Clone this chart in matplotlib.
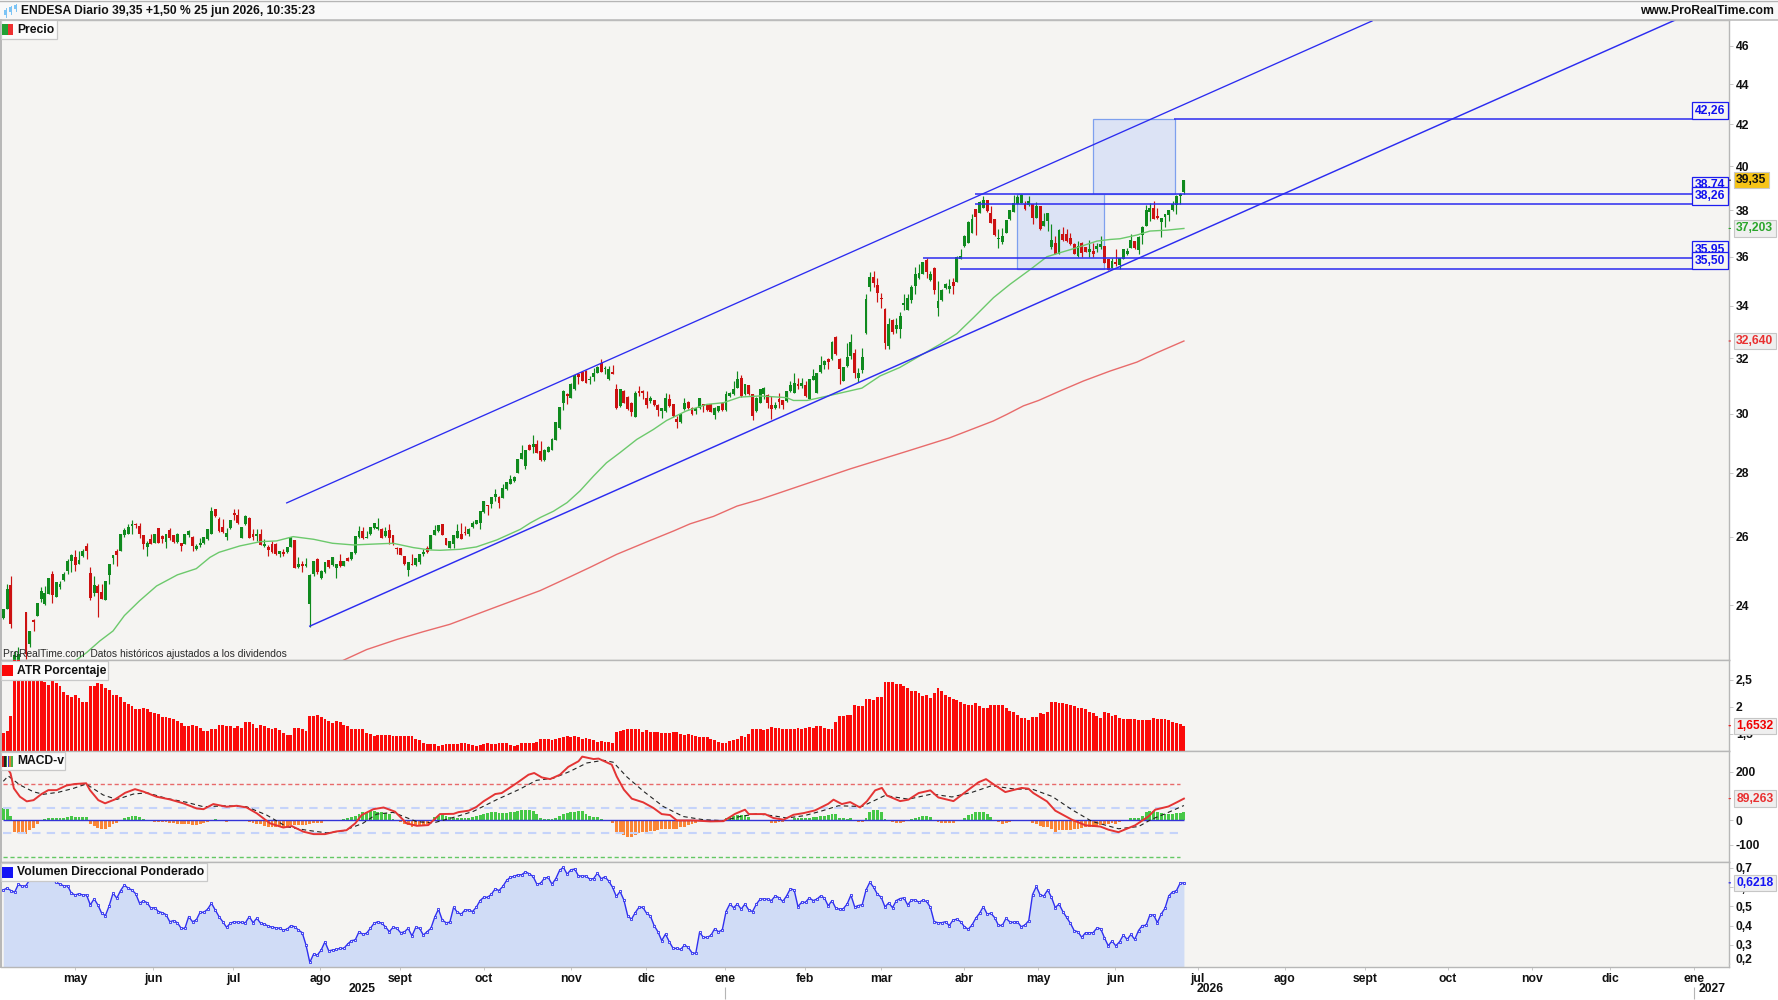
import matplotlib
matplotlib.use("Agg")
import matplotlib.pyplot as plt
from matplotlib.patches import Rectangle
from matplotlib.ticker import NullLocator

plt.rcParams['font.family'] = ['Liberation Sans', 'DejaVu Sans']

W, H = 1778, 1000

# Daily candles, oldest first
opens = [
 23.66,23.89,24.58,22.45,22.5,22.4,23.81,22.94,23.6,23.71,
 24.17,24.03,24.32,24.89,24.24,24.51,24.73,24.97,25.28,25.38,
 25.2,25.43,25.72,24.93,24.36,24.55,24.39,24.15,24.86,25.36,
 25.58,25.58,26.04,26.09,26.33,26.36,26.33,26.05,25.69,25.92,
 25.82,26.25,26.02,25.85,26.2,26.04,25.84,25.8,25.79,26.04,
 26.0,25.62,25.74,25.8,25.92,26.09,26.84,26.55,26.3,25.99,
 26.26,26.71,26.67,25.97,26.38,26.58,26.09,26.02,26.09,25.72,
 25.69,25.79,25.79,25.48,25.55,25.53,25.69,25.89,25.09,25.17,
 25.12,24.05,24.89,25.33,24.78,24.94,25.3,25.16,25.07,25.28,
 25.14,25.36,25.33,25.5,26.0,26.16,25.95,26.07,26.26,26.23,
 26.23,26.02,26.21,26.04,25.67,25.67,25.41,25.01,25.18,25.16,
 25.23,25.48,25.67,25.62,26.05,26.16,26.38,25.95,25.67,25.77,
 25.97,26.07,26.14,26.07,26.29,26.39,26.42,26.75,26.97,26.99,
 27.24,27.24,27.21,27.47,27.65,27.74,28.0,28.47,28.23,28.92,
 28.85,28.94,28.72,28.42,28.7,28.77,29.09,29.49,30.36,30.68,
 30.56,30.86,31.4,31.5,31.52,31.18,31.3,31.46,31.8,31.58,
 31.22,31.5,30.86,30.26,30.8,30.6,30.38,29.89,30.78,30.8,
 30.56,30.44,30.46,30.3,30.09,30.09,30.5,30.32,29.82,29.7,
 30.15,30.42,30.2,30.09,30.18,30.32,30.3,30.32,29.94,30.09,
 30.38,30.11,30.62,30.68,30.92,31.28,30.68,31.0,30.68,30.09,
 30.38,30.68,30.66,30.3,30.19,30.5,30.46,30.44,30.78,30.74,
 31.04,30.96,31.02,30.5,31.2,30.74,31.48,31.74,31.98,31.95,
 32.8,31.98,31.16,31.69,32.08,32.2,31.28,31.56,32.94,34.76,
 35.16,34.82,34.33,33.89,32.45,33.44,33.11,33.09,34.04,33.84,
 34.23,34.8,35.11,35.3,35.85,35.03,35.54,33.93,34.23,34.7,
 34.67,34.96,34.96,35.92,36.45,36.59,37.02,38.04,37.89,38.11,
 38.44,37.89,37.6,36.73,36.62,37.02,37.6,37.92,38.29,38.33,
 38.26,38.23,38.26,37.67,38.18,37.31,37.53,36.43,36.56,36.13,
 36.95,36.95,36.81,36.52,36.03,36.59,36.41,36.21,36.24,36.31,
 36.42,36.45,35.89,35.54,35.78,35.65,35.92,36.1,36.38,36.66,
 36.27,36.92,37.31,37.9,38.12,37.75,37.5,37.7,37.78,37.99,38.23,38.65,38.8,
]
highs = [
 23.89,24.62,24.84,22.77,22.86,22.45,23.81,23.3,23.62,24.06,
 24.51,24.55,24.77,24.97,24.65,24.7,24.96,25.33,25.48,25.6,
 25.58,25.62,25.82,25.11,24.84,24.6,24.6,24.68,25.18,25.46,
 25.62,26.07,26.26,26.38,26.52,26.43,26.43,26.05,25.87,26.07,
 26.07,26.27,26.05,26.07,26.25,26.04,26.1,25.82,26.09,26.2,
 26.02,25.79,25.97,26.0,26.23,26.91,26.86,26.6,26.53,26.26,
 26.5,26.84,26.84,26.3,26.65,26.6,26.23,26.23,26.23,25.92,
 25.75,25.87,25.8,25.58,25.62,25.7,26.0,25.89,25.38,25.28,
 25.36,24.9,25.28,25.36,25.0,25.23,25.3,25.38,25.2,25.48,
 25.26,25.4,25.55,26.02,26.33,26.3,26.16,26.3,26.43,26.58,
 26.25,26.28,26.38,26.04,25.69,25.67,25.43,25.23,25.48,25.36,
 25.48,25.62,25.72,26.04,26.36,26.36,26.38,25.95,25.87,26.05,
 26.39,26.4,26.32,26.25,26.49,26.52,26.8,27.1,26.98,27.24,
 27.47,27.25,27.65,27.72,27.92,27.9,28.44,28.91,28.77,28.94,
 29.26,29.09,29.05,28.78,28.89,29.17,29.72,30.24,30.84,30.74,
 31.08,31.38,31.46,31.52,31.54,31.34,31.64,31.7,31.98,31.7,
 31.7,31.74,31.04,30.88,30.82,30.62,30.4,30.78,30.98,30.82,
 30.8,30.62,30.48,30.32,30.2,30.74,30.68,30.34,29.91,29.98,
 30.54,30.44,30.22,30.2,30.56,30.34,30.32,30.34,30.22,30.28,
 30.4,30.78,30.76,31.16,31.52,31.38,31.06,31.02,30.7,30.58,
 30.88,30.95,30.68,30.62,30.4,30.74,30.48,30.8,31.16,31.46,
 31.28,31.25,31.16,31.24,31.6,31.46,32.08,31.91,31.99,32.64,
 32.82,31.99,31.67,32.55,32.9,32.33,31.62,32.39,34.47,35.38,
 35.4,35.14,34.53,33.93,33.54,33.5,33.54,33.76,34.49,34.47,
 34.84,35.57,35.68,35.8,35.93,35.4,35.56,35.0,34.66,34.93,
 35.07,35.14,36.03,36.31,36.9,37.52,37.82,38.06,38.39,38.62,
 38.46,38.18,37.62,37.2,37.24,37.58,38.01,38.67,38.7,38.74,
 38.4,38.62,38.28,38.37,38.2,37.89,37.88,37.38,36.88,37.16,
 37.27,37.17,37.02,36.59,36.66,36.62,36.43,36.69,36.59,36.56,
 36.88,36.47,35.91,35.93,36.31,35.95,36.33,36.38,36.95,36.68,
 36.87,37.29,38.23,38.32,38.4,38.11,37.67,37.84,38.01,38.43,38.67,38.76,39.35,
]
lows = [
 23.63,23.89,23.37,22.3,22.3,22.1,22.55,22.86,23.3,23.71,
 24.1,24.0,24.32,24.06,24.24,24.46,24.7,24.89,24.94,24.99,
 25.2,25.4,25.33,24.15,24.27,23.69,24.17,24.15,24.6,25.2,
 25.12,25.58,26.0,26.07,26.07,26.26,25.95,25.62,25.43,25.77,
 25.8,25.8,25.82,25.67,25.9,25.8,25.8,25.58,25.79,26.0,
 25.58,25.6,25.7,25.78,25.9,26.09,26.6,26.14,26.1,25.89,
 26.24,26.5,26.38,25.95,26.36,25.95,25.89,25.87,25.74,25.7,
 25.43,25.5,25.45,25.38,25.43,25.5,25.69,25.06,25.07,24.96,
 25.1,23.42,24.85,24.9,24.75,24.92,25.07,25.14,24.78,25.1,
 25.12,25.26,25.3,25.48,25.97,25.93,25.95,26.05,26.24,26.2,
 25.95,26.0,25.77,25.75,25.48,25.44,25.16,24.84,25.16,25.14,
 25.2,25.43,25.52,25.62,26.04,26.14,26.04,25.74,25.65,25.67,
 25.95,25.92,26.05,26.03,26.27,26.37,26.22,26.73,26.66,26.88,
 27.1,26.87,27.2,27.45,27.63,27.72,28.0,28.45,28.12,28.75,
 28.67,28.65,28.39,28.4,28.68,28.75,29.08,29.48,30.12,30.32,
 30.55,30.85,31.04,31.14,31.08,31.04,31.16,31.44,31.48,31.4,
 31.2,31.4,30.16,30.24,30.36,30.13,29.91,29.87,30.62,30.5,
 30.18,30.38,30.28,29.91,29.85,30.07,30.24,29.89,29.51,29.68,
 30.13,30.16,29.95,30.0,30.16,30.07,30.09,30.05,29.82,30.07,
 30.09,30.09,30.6,30.66,30.9,30.6,30.66,30.66,29.77,30.07,
 30.36,30.5,30.21,29.8,30.15,30.21,30.15,30.42,30.76,30.72,
 30.86,30.9,30.6,30.5,31.18,30.72,31.46,31.59,31.59,31.93,
 32.1,31.06,31.14,31.67,31.98,31.28,31.12,31.46,32.92,34.6,
 34.76,34.17,33.9,32.35,32.35,32.9,32.93,32.77,33.83,33.82,
 34.13,34.49,35.09,35.28,35.14,35.0,34.49,33.6,34.21,34.68,
 34.53,34.49,34.94,35.9,36.43,36.57,37.0,36.91,37.87,38.09,
 37.94,37.44,36.89,36.38,36.52,37.0,37.58,37.9,38.27,38.31,
 38.02,38.2,37.38,37.65,37.15,37.29,37.1,36.31,36.1,36.11,
 36.68,36.64,36.5,36.1,36.0,35.99,36.19,35.99,35.99,36.21,
 36.31,35.73,35.44,35.52,35.61,35.51,35.9,36.08,36.36,36.33,
 36.13,36.52,37.29,37.53,37.61,37.63,36.85,37.27,37.53,37.97,37.82,38.26,38.74,
]
closes = [
 23.89,24.46,23.49,22.65,22.69,22.2,22.69,23.3,23.55,24.06,
 24.41,24.36,24.77,24.3,24.65,24.62,24.89,25.26,25.46,25.16,
 25.3,25.58,25.58,24.22,24.57,24.34,24.17,24.68,25.18,25.46,
 25.45,26.07,26.2,26.3,26.38,26.34,26.07,25.79,25.82,25.79,
 26.07,25.82,25.92,26.07,25.95,25.85,26.07,25.72,26.09,26.16,
 25.72,25.72,25.82,26.0,26.23,26.79,26.64,26.16,26.14,26.1,
 26.5,26.67,26.4,26.3,26.63,25.97,25.99,26.07,25.75,25.79,
 25.6,25.53,25.48,25.56,25.48,25.69,26.0,25.07,25.18,25.14,
 25.18,24.87,25.28,24.94,24.99,25.23,25.1,25.38,25.18,25.14,
 25.26,25.28,25.55,26.02,26.16,25.95,25.97,26.3,26.4,26.3,
 25.97,26.16,25.97,25.77,25.62,25.46,25.18,25.23,25.16,25.36,
 25.48,25.53,25.55,26.04,26.21,26.36,26.05,25.75,25.87,26.04,
 26.17,25.94,26.1,26.24,26.4,26.5,26.8,27.1,26.94,27.24,
 27.31,27.05,27.52,27.72,27.79,27.88,28.44,28.64,28.77,28.77,
 28.94,28.67,28.42,28.77,28.84,29.11,29.71,30.23,30.78,30.62,
 31.04,31.36,31.3,31.16,31.1,31.22,31.46,31.68,31.5,31.64,
 31.6,31.42,30.18,30.86,30.38,30.15,30.07,30.72,30.74,30.74,
 30.3,30.56,30.3,30.11,30.18,30.54,30.26,29.91,29.7,29.97,
 30.38,30.18,29.97,30.18,30.54,30.26,30.11,30.07,30.2,30.26,
 30.11,30.68,30.74,30.88,31.22,30.62,31.04,30.68,29.91,30.56,
 30.86,30.9,30.38,30.15,30.3,30.4,30.3,30.78,31.02,31.1,
 30.98,31.1,30.62,31.22,31.34,31.44,31.73,31.89,31.85,32.62,
 32.14,31.59,31.65,32.02,32.62,31.43,31.46,32.02,34.26,35.16,
 34.9,34.53,34.28,32.55,33.28,32.98,33.25,33.6,34.13,34.33,
 34.76,35.27,35.31,35.78,35.38,35.27,34.63,34.2,34.64,34.87,
 34.8,34.8,36.0,36.03,36.88,37.5,37.6,37.72,38.37,38.47,
 37.96,37.46,36.91,36.81,36.88,37.56,37.99,38.3,38.6,38.67,
 38.04,38.43,37.67,38.18,37.17,37.53,37.86,36.69,36.13,37.14,
 36.7,36.66,36.52,36.13,36.45,36.17,36.21,36.31,36.13,36.45,
 36.55,35.75,35.46,35.82,35.68,35.93,36.31,36.24,36.7,36.35,
 36.85,37.27,38.0,38.12,37.63,37.65,37.65,37.82,37.99,38.26,38.65,38.74,39.35,
]

# Moving averages: (bar, price) vertices
ma_fast_bar = [19.2,22,25.5,29,32,36,40.5,46,51,54.6,57,62.5,68,72.2,76.6,82,87,92.5,98.7,103,108.4,112.8,
               115.4,120.7,125,130.4,136.6,139.3,142,145.4,149,152.4,156,159.4,163,167.4,171.8,175.3,180.5,185.9,190.3,
               194.7,200,207,208.8,212.4,215.9,221.1,226.9,231.7,236.9,242.2,247.6,252,256.4,261.7,266.1,
               271.4,275.8,279.3,283.7,289,292.5,295.1,299.6,303,307.5,312]
ma_fast_val = [22.52,22.72,23.03,23.3,23.72,24.13,24.55,24.87,25.05,25.38,25.53,25.72,25.85,25.87,26.0,25.92,25.8,25.75,25.78,25.8,25.67,25.6,
               25.59,25.62,25.69,25.9,26.22,26.42,26.59,26.78,27.05,27.42,27.9,28.33,28.67,29.11,29.45,29.76,30.09,30.32,30.38,
               30.58,30.62,30.56,30.46,30.46,30.56,30.72,30.9,31.34,31.65,32.08,32.52,32.92,33.54,34.33,34.87,
               35.47,36.0,36.17,36.38,36.66,36.73,36.76,36.92,37.09,37.13,37.203]
ma_slow_bar = [89.9,96,104,111,118,130,141.9,148.9,155.1,162.1,170,177.1,181.5,187.7,193.9,200,223.8,239,250,261.6,265.2,269.6,
               273.6,279.3,285.5,292.5,299.6,304.9,312]
ma_slow_val = [22.52,22.8,23.07,23.28,23.48,23.95,24.42,24.77,25.09,25.47,25.84,26.17,26.39,26.62,26.94,27.15,28.13,28.72,29.16,29.74,29.97,30.27,
               30.46,30.8,31.16,31.52,31.85,32.2,32.64]

# Trend channel: (bar, price) end points
channel_upper_bar = [74.9, 361.7]
channel_upper_val = [27.04, 47.35]
channel_lower_bar = [81.0, 441.8]
channel_lower_val = [23.43, 47.4]

# Price levels with the bar each one starts from
level_vals = [42.26, 38.74, 38.26, 35.95, 35.50]
level_labels = ['42,26', '38,74', '38,26', '35,95', '35,50']
level_start_bar = [309.4, 256.8, 256.8, 243.0, 252.8]

# Shaded projection boxes: bar span and price span
box_bar_start = [288.0, 267.9]
box_bar_end = [309.6, 291.0]
box_low = [38.74, 35.50]
box_high = [42.26, 38.74]

# ATR percentage per bar
atr_vals = [
 1.52,1.56,1.83,2.95,2.9,2.85,2.8,2.75,2.7,2.65,
 2.48,2.47,2.40,2.51,2.44,2.38,2.28,2.23,2.19,2.23,
 2.16,2.1,2.1,2.39,2.38,2.44,2.42,2.35,2.31,2.23,
 2.22,2.18,2.1,2.06,2.01,1.96,1.96,1.98,1.96,1.91,
 1.88,1.87,1.82,1.82,1.79,1.77,1.74,1.7,1.64,1.65,
 1.67,1.65,1.62,1.56,1.56,1.59,1.6,1.67,1.67,1.65,
 1.64,1.62,1.65,1.62,1.72,1.72,1.69,1.62,1.67,1.64,
 1.62,1.6,1.62,1.57,1.52,1.48,1.48,1.62,1.61,1.59,
 1.56,1.83,1.83,1.85,1.82,1.77,1.74,1.7,1.74,1.72,
 1.67,1.64,1.6,1.59,1.59,1.59,1.52,1.5,1.47,1.48,
 1.48,1.48,1.49,1.47,1.46,1.46,1.46,1.46,1.46,1.41,
 1.38,1.34,1.31,1.31,1.31,1.28,1.3,1.31,1.31,1.31,
 1.31,1.34,1.34,1.31,1.30,1.27,1.3,1.31,1.33,1.31,
 1.31,1.33,1.34,1.33,1.29,1.27,1.3,1.33,1.34,1.34,
 1.34,1.36,1.41,1.41,1.41,1.39,1.41,1.43,1.44,1.46,
 1.44,1.46,1.44,1.41,1.42,1.41,1.39,1.35,1.37,1.36,
 1.36,1.34,1.53,1.55,1.57,1.59,1.59,1.6,1.59,1.54,
 1.57,1.54,1.53,1.53,1.51,1.51,1.51,1.53,1.53,1.5,
 1.49,1.5,1.48,1.46,1.44,1.44,1.44,1.41,1.38,1.35,
 1.33,1.34,1.37,1.39,1.4,1.46,1.44,1.5,1.6,1.6,
 1.6,1.57,1.6,1.63,1.62,1.61,1.6,1.59,1.59,1.6,
 1.61,1.59,1.61,1.63,1.62,1.65,1.65,1.61,1.6,1.6,
 1.73,1.83,1.84,1.85,1.85,2.04,2.02,2.02,2.14,2.14,
 2.13,2.18,2.18,2.47,2.47,2.46,2.42,2.42,2.38,2.35,
 2.3,2.29,2.25,2.2,2.22,2.17,2.25,2.35,2.29,2.22,
 2.19,2.15,2.13,2.1,2.06,2.04,2.04,2.08,2.02,1.99,
 1.99,2.03,2.04,2.03,2.03,1.98,1.93,1.9,1.86,1.8,
 1.79,1.75,1.82,1.82,1.89,1.87,1.91,2.09,2.1,2.08,
 2.08,2.06,2.04,2.02,1.99,1.99,1.96,1.91,1.89,1.84,
 1.8,1.91,1.89,1.84,1.85,1.8,1.77,1.78,1.77,1.77,
 1.75,1.75,1.75,1.75,1.8,1.78,1.77,1.78,1.75,1.72,
 1.7,1.68,1.6532,
]

# MACD-V histogram per bar
macd_hist = [
 52,52,20,-48,-52,-55,-55,-41,-30,-14,
 -3,4,11,8,8,10,11,14,18,16,
 16,15,15,-16,-23,-30,-36,-34,-25,-14,
 -11,3,11,16,19,19,14,5,0,-4,
 -5,-5,-7,-8,-11,-12,-15,-15,-14,-15,
 -19,-19,-14,-10,-5,3,5,0,-4,-7,
 -4,1,0,-1,-3,-7,-11,-14,-16,-22,
 -25,-27,-27,-27,-30,-27,-20,-19,-19,-19,
 -18,-14,-12,-12,-11,-4,-1,1,3,3,
 4,8,14,20,27,33,34,37,38,36,
 33,30,27,7,-3,-5,-16,-19,-25,-22,
 -22,-19,-16,1,14,19,22,20,16,
 11,10,10,8,11,14,18,22,27,30,
 33,33,30,29,30,33,34,38,42,44,
 44,38,25,11,7,4,4,12,20,25,
 30,34,34,37,37,27,20,16,14,4,
 1,-4,-11,-46,-52,-60,-68,-68,-60,-52,
 -49,-46,-45,-45,-41,-37,-33,-33,-33,-37,
 -27,-25,-19,-14,-11,-4,0,1,0,-1,
 0,1,8,14,20,23,23,23,16,0,
 -3,0,-1,-3,-11,-11,-8,-7,-4,1,
 12,10,10,11,11,14,16,18,
 20,22,27,27,11,8,5,10,-3,-7,
 -8,11,34,44,44,34,7,0,-8,-11,
 -11,-7,0,4,11,16,19,19,14,3,
 -7,-11,-11,-11,-10,-4,1,11,22,27,
 33,36,36,27,16,0,-7,-16,-11,-8,
 -4,1,1,-1,0,-11,-14,-22,-25,-27,
 -36,-46,-41,-41,-41,-38,-37,-33,-30,-25,
 -25,-25,-22,-19,-16,-14,-11,-14,-8,-3,
 0,8,10,12,20,33,37,38,36,30,
 27,27,27,30,30,36,
]

# MACD-V line: (bar, value) vertices
macd_bar = [0,1.9,2.8,4.4,6.2,8,10.1,11.9,14.1,16.7,18.9,21.9,22.9,25.1,26.9,29.5,32.2,34.8,37,40.5,44,47.6,51.1,52.9,55.5,59,61.7,64.3,67,70.5,74,76.2,79.3,82,85,88,90.7,93,94.7,97.8,100.5,103.5,106.6,109.3,112.3,
            115.4,119,120.3,123,125,126.9,130,131.7,135.7,138.8,140.3,142.3,144.5,147.1,149.3,152,153,156,157.3,160.8,162.1,164,166.1,169.1,171.8,174,176.2,178,182.4,186.8,190.3,193.4,196,197,201.3,203.5,206.2,208.8,211.5,214.5,
            218,219.4,221.6,223.8,226.4,228.2,230.4,232.2,233.5,237,239.2,241.9,245,247.1,251.1,255.1,257.7,259.7,261.2,264.8,269.1,270.9,272.2,275.8,278,282.4,286,289.9,292.1,294.7,299.1,302.6,304.4,307.9,310.1,312]
macd_val = [240,193,131,97,78,83,108,124,124,143,149,152,124,83,70,86,113,128,118,97,86,70,49,46,67,56,60,53,29,-12,-29,-23,-46,-56,-56,-45,-40,-12,22,46,53,36,-12,-22,-19,
            26,27,34,40,55,78,108,112,153,187,194,176,169,187,219,242,261,251,253,228,180,126,89,74,51,26,22,0,0,-4,-3,27,44,26,26,10,3,23,30,41,
            68,85,67,75,53,78,123,133,102,79,85,112,123,94,79,126,156,169,153,116,133,130,112,78,40,3,-20,-25,-38,-48,-20,16,44,57,74,89.263]

# Signal line: (bar, value) vertices
signal_bar = [0,1.3,4.4,8,10.6,14.5,18.5,21.9,26.4,30,34.4,38,43.2,48.5,52.9,59,64.3,69.6,74.9,80.2,85.5,89.9,95,98.7,103,109.3,113.7,
              119.8,124.2,130.4,136.5,140.9,145.4,149.8,154.2,158.6,161.2,164.8,169.2,174.4,179.7,185,190.3,194.7,199,203.5,207,211.5,215.9,
              220.7,226.9,233,239.2,245.4,250.7,256,261.2,267.4,271.9,277.2,282.4,287.7,294.7,300,303.5,307,312]
signal_val = [160,182,145,117,107,115,131,149,104,86,108,113,90,74,56,60,56,22,-26,-40,-51,-42,-12,26,33,-5,-10,
              16,37,85,128,164,173,201,235,246,238,178,119,57,16,3,-1,16,27,19,10,19,37,
              60,57,102,87,108,96,115,142,128,128,98,44,-4,-34,-25,5,27,61]

macd_overbought = 150
macd_band_high = 50
macd_band_low = -50
macd_oversold = -150

# Weighted directional volume per bar
vdp_vals = [
 .585,.594,.582,.573,.615,.603,.608,.638,.664,.672,
 .672,.669,.655,.634,.625,.615,.606,.606,.568,.559,
 .565,.559,.559,.507,.539,.507,.464,.452,.504,.568,
 .542,.582,.611,.594,.585,.565,.516,.528,.519,.49,
 .493,.473,.467,.457,.42,.426,.415,.386,.386,.447,
 .42,.429,.469,.469,.485,.516,.481,.447,.42,.391,
 .412,.42,.417,.417,.415,.447,.415,.438,.412,.407,
 .398,.391,.389,.386,.377,.381,.4,.394,.377,.363,
 .299,.209,.252,.247,.273,.316,.269,.273,.276,.282,
 .282,.304,.322,.325,.368,.355,.36,.386,.412,.42,
 .412,.394,.368,.391,.386,.363,.367,.386,.346,.391,
 .386,.351,.368,.386,.443,.485,.429,.415,.417,
 .495,.469,.459,.481,.481,.473,.495,.53,.547,.547,
 .563,.591,.582,.603,.634,.651,.655,.664,.664,.679,
 .669,.655,.615,.62,.646,.65,.615,.643,.686,.703,
 .667,.69,.693,.658,.657,.657,.641,.644,.672,.643,
 .653,.631,.599,.551,.577,.533,.452,.433,.467,.495,
 .495,.464,.45,.4,.368,.322,.356,.316,.282,.282,
 .276,.299,.287,.259,.256,.365,.339,.339,.349,.384,
 .368,.377,.473,.512,.493,.512,.485,.512,.481,.473,
 .511,.537,.539,.537,.53,.554,.545,.525,.554,.591,
 .585,.499,.521,.521,.544,.53,.537,.554,
 .544,.502,.53,.49,.485,.488,.512,.558,.497,.504,
 .509,.585,.625,.599,.563,.547,.497,.518,.493,.53,
 .54,.544,.507,.533,.533,.521,.532,.525,.495,.42,
 .415,.415,.42,.4,.429,.433,.42,.394,.381,.403,
 .438,.464,.499,.46,.464,.441,.401,.401,.438,.419,
 .417,.42,.394,.403,.426,.561,.603,.559,.554,.585,
 .547,.493,.512,.473,.443,.412,.374,.368,.339,.363,
 .363,.363,.387,.384,.337,.295,.32,.295,.316,.351,
 .328,.354,.328,.374,.4,.401,.455,.455,.415,.46,
 .49,.554,.575,.58,.62,.6218,
]

# Time axis
month_labels = ['may','jun','jul','ago','sept','oct','nov','dic','ene','feb','mar','abr','may','jun','jul','ago','sept','oct','nov','dic','ene']
month_bars = [18.95,39.6,60.7,83.7,104.8,127,150,169.9,190.6,211.9,232,253.9,273.4,293.8,315.6,338.7,359.9,381.8,404,424.6,446.8]
year_labels = ['2025','2026','2027']
year_label_bars = [94.8,319,448.1]
year_tick_bars = [190.6,446.8]

price_ticks = [24,26,28,30,32,34,36,38,40,42,44,46]
atr_ticks = [1.5,2,2.5]
macd_ticks = [-100,0,200]
vdp_ticks = [0.3,0.4,0.5,0.6,0.7]

PANEL = '#f5f4f2'
GRID = '#b7b7b7'
BLUE = '#2b2bf0'
UP = '#0f8a1e'
DOWN = '#cc1111'
TEXT = '#111111'
FS = 8.75

bars = list(range(len(closes)))


def dec(v):
    return f'{v:g}'.replace('.', ',')


def make_axes(top, bottom, ylim, ticks, log=False):
    left, right = 1, 1729
    ax = fig.add_axes([left / W, 1 - bottom / H, (right - left) / W, (bottom - top) / H])
    ax.set_facecolor(PANEL)
    if log:
        ax.set_yscale('log')
    ax.set_xlim(-0.608, 456.05)
    ax.set_ylim(*ylim)
    ax.yaxis.tick_right()
    ax.set_yticks(ticks)
    ax.set_yticklabels([dec(t) for t in ticks], fontweight='bold', fontsize=FS, color=TEXT)
    ax.yaxis.set_minor_locator(NullLocator())
    ax.tick_params(axis='y', length=3, width=0.7, color='#c8c8c8', pad=2)
    ax.set_xticks([])
    for spine in ax.spines.values():
        spine.set_color(GRID)
        spine.set_linewidth(1.0)
    ax.spines['left'].set_linewidth(1.4)
    return ax


def value_tag(ax, val, label, color, face='#efefef', edge='#c6c6c6'):
    ax.annotate('', xy=(1.0, val), xytext=(1.0025, val), xycoords=ax.get_yaxis_transform(),
                arrowprops=dict(arrowstyle='-', color=color, lw=0.8), annotation_clip=False)
    ax.annotate(label, xy=(1, val), xycoords=ax.get_yaxis_transform(), xytext=(5.2, 0),
                textcoords='offset points', va='center', ha='left', fontsize=FS, fontweight='bold',
                color=color, zorder=20, annotation_clip=False,
                bbox=dict(boxstyle='square,pad=0.18', fc=face, ec=edge, lw=0.8))


fig = plt.figure(figsize=(W / 100, H / 100), dpi=100, facecolor='white')

# Price panel
ax_p = make_axes(20, 660, (22.526, 47.405), price_ticks, log=True)
for x0, x1, lo, hi in zip(box_bar_start, box_bar_end, box_low, box_high):
    ax_p.add_patch(Rectangle((x0, lo), x1 - x0, hi - lo, fc='#dce3f5', ec='#7ea0ee', lw=0.9, zorder=1))
up_color = [UP if c >= o else DOWN for o, c in zip(opens, closes)]
ax_p.vlines(bars, lows, highs, colors=up_color, lw=0.85, zorder=3)
ax_p.bar(bars, [max(abs(c - o), 0.035) for o, c in zip(opens, closes)],
         bottom=[min(o, c) for o, c in zip(opens, closes)], width=0.76, color=up_color, lw=0, zorder=3)
ax_p.plot(ma_fast_bar, ma_fast_val, color='#6cc96c', lw=1.0, zorder=4)
ax_p.plot(ma_slow_bar, ma_slow_val, color='#e86b6b', lw=1.0, zorder=4)
ax_p.plot(channel_upper_bar, channel_upper_val, color=BLUE, lw=0.95, zorder=5)
ax_p.plot(channel_lower_bar, channel_lower_val, color=BLUE, lw=1.05, zorder=5)
ax_p.hlines(level_vals, level_start_bar, 456.05, colors=BLUE, lw=1.1, zorder=5)
for val, lab in zip(level_vals, level_labels):
    ax_p.annotate(lab, xy=(1, val), xycoords=ax_p.get_yaxis_transform(), xytext=(-2.6, 1.6),
                  textcoords='offset points', ha='right', va='bottom', fontsize=FS, fontweight='bold',
                  color='#1010f0', zorder=6,
                  bbox=dict(boxstyle='square,pad=0.22', fc=PANEL, ec='#1c1cf0', lw=0.9))
value_tag(ax_p, closes[-1], dec(closes[-1]), TEXT, face='#f6c417', edge='#c8c8c8')
value_tag(ax_p, 37.203, '37,203', '#2aa52a')
value_tag(ax_p, 32.640, '32,640', '#e93030')
ax_p.text(0.0012, 0.0012, 'ProRealTime.com  Datos históricos ajustados a los dividendos', transform=ax_p.transAxes,
          fontsize=7.4, color='#2a2a2a', va='bottom', ha='left', zorder=7)

# ATR panel
ax_a = make_axes(660, 751, (1.185, 2.87), atr_ticks)
ax_a.bar(bars, atr_vals, width=0.76, color='#fb0a0a', lw=0, zorder=3, bottom=0)
ax_a.set_ylim(1.185, 2.87)
value_tag(ax_a, atr_vals[-1], '1,6532', '#f00000')

# MACD-V panel
ax_m = make_axes(751, 862, (-170, 284), macd_ticks)
ax_m.bar(bars, macd_hist, width=0.76, color=['#46c846' if v >= 0 else '#fb8534' for v in macd_hist], lw=0, zorder=2)
last = bars[-1]
ax_m.hlines(macd_overbought, 0, last - 1, colors='#e86a6a', lw=1.0, linestyles=(0, (3, 2)))
ax_m.hlines([macd_band_high, macd_band_low], 0, last - 1, colors='#c5d3fa', lw=1.5, linestyles=(0, (4, 3)))
ax_m.hlines(macd_oversold, 0, last - 1, colors='#64c864', lw=1.0, linestyles=(0, (3, 2)))
ax_m.hlines(0, 0, last, colors='#3333d8', lw=1.0, zorder=3)
ax_m.plot(signal_bar, signal_val, color='#222222', lw=0.8, ls=(0, (4, 3)), zorder=4)
ax_m.plot(macd_bar, macd_val, color='#e43434', lw=1.4, zorder=5)
value_tag(ax_m, macd_val[-1], '89,263', '#e93030')

# Directional volume panel
ax_v = make_axes(862, 967, (0.185, 0.73), vdp_ticks)
ax_v.fill_between(bars, vdp_vals, 0.185, color='#d0dcf6', lw=0, zorder=2)
ax_v.plot(bars, vdp_vals, color='#2f2ff0', lw=1.0, marker='s', ms=2.0, mfc='#e8ecf8', mec='#2f2ff0', mew=0.6, zorder=3)
ax_v.set_xticks(month_bars)
ax_v.set_xticklabels(month_labels, fontweight='bold', fontsize=FS, color=TEXT)
ax_v.tick_params(axis='x', length=2.5, width=0.7, color='#c8c8c8', pad=1.6)
ax_v.annotate('0,2', xy=(1, 0.2), xycoords=ax_v.get_yaxis_transform(), xytext=(5, 3),
              textcoords='offset points', va='center', ha='left', fontsize=FS, fontweight='bold', color=TEXT,
              annotation_clip=False)
ax_v.annotate('', xy=(1.0, 0.2), xytext=(1.0022, 0.2), xycoords=ax_v.get_yaxis_transform(),
              arrowprops=dict(arrowstyle='-', color='#c8c8c8', lw=0.7), annotation_clip=False)
value_tag(ax_v, vdp_vals[-1], '0,6218', '#1414f5')

# Year row under the time axis
ax_y = fig.add_axes([1 / W, 0, 1728 / W, 33 / H])
ax_y.set_xlim(-0.608, 456.05)
ax_y.set_ylim(33, 0)
ax_y.axis('off')
for b, lab in zip(year_label_bars, year_labels):
    ax_y.text(b, 21.8, lab, ha='left' if lab == '2027' else 'center', va='center', fontsize=FS, fontweight='bold', color=TEXT)
ax_y.vlines(year_tick_bars, 20, 32, colors='#b5b5b5', lw=0.8)

# Title strip and indicator name boxes, laid out in figure pixels
ov = fig.add_axes([0, 0, 1, 1], zorder=30)
ov.set_xlim(0, W)
ov.set_ylim(H, 0)
ov.axis('off')
ov.patch.set_alpha(0)
ov.add_patch(Rectangle((0, 1), W, 18, fc='#f8f8f8', ec='none'))
ov.plot([0, W], [0.5, 0.5], color='#b5b5b5', lw=1)
ov.plot([0, W], [19.5, 19.5], color='#bdbdbd', lw=1.2)
for x, y0, y1, b0, b1 in [(5.5, 8, 17, 10, 15), (10.5, 6, 14, 7, 12), (15.5, 4, 11, 5, 9)]:
    ov.plot([x, x], [y0, y1], color='#7cc4f5', lw=0.7)
    ov.add_patch(Rectangle((x - 1.5, b0), 3, b1 - b0, fc='#7cc4f5', ec='none'))
ov.text(21, 11.4, 'ENDESA Diario 39,35 +1,50 % 25 jun 2026, 10:35:23', fontsize=FS, fontweight='bold', color=TEXT, va='center')
ov.text(1774, 11.4, 'www.ProRealTime.com', fontsize=FS, fontweight='bold', color=TEXT, va='center', ha='right')

legend_rows = [
    (20, 38.5, 56, 'Precio', ['#22a035', '#ee3030']),
    (660.5, 680, 107, 'ATR Porcentaje', ['#fb0a0a']),
    (751.5, 770, 64, 'MACD-v', ['#d02020', '#202020', '#2b8f3a', '#3b3bd0', '#e08030', '#4ab04a']),
    (862.5, 881, 206, 'Volumen Direccional Ponderado', ['#1414f5']),
]
for top, bottom, right, name, swatch in legend_rows:
    ov.add_patch(Rectangle((0.5, top), right, bottom - top, fc='#fbfbfb', ec='#c9c9c9', lw=0.9))
    step = 11 / len(swatch)
    for k, col in enumerate(swatch):
        ov.add_patch(Rectangle((2 + k * step, top + 4), step, 11, fc=col, ec='none'))
    ov.text(17, (top + bottom) / 2 + 0.6, name, fontsize=FS, fontweight='bold', color=TEXT, va='center')

fig.savefig('out.png', dpi=100)
